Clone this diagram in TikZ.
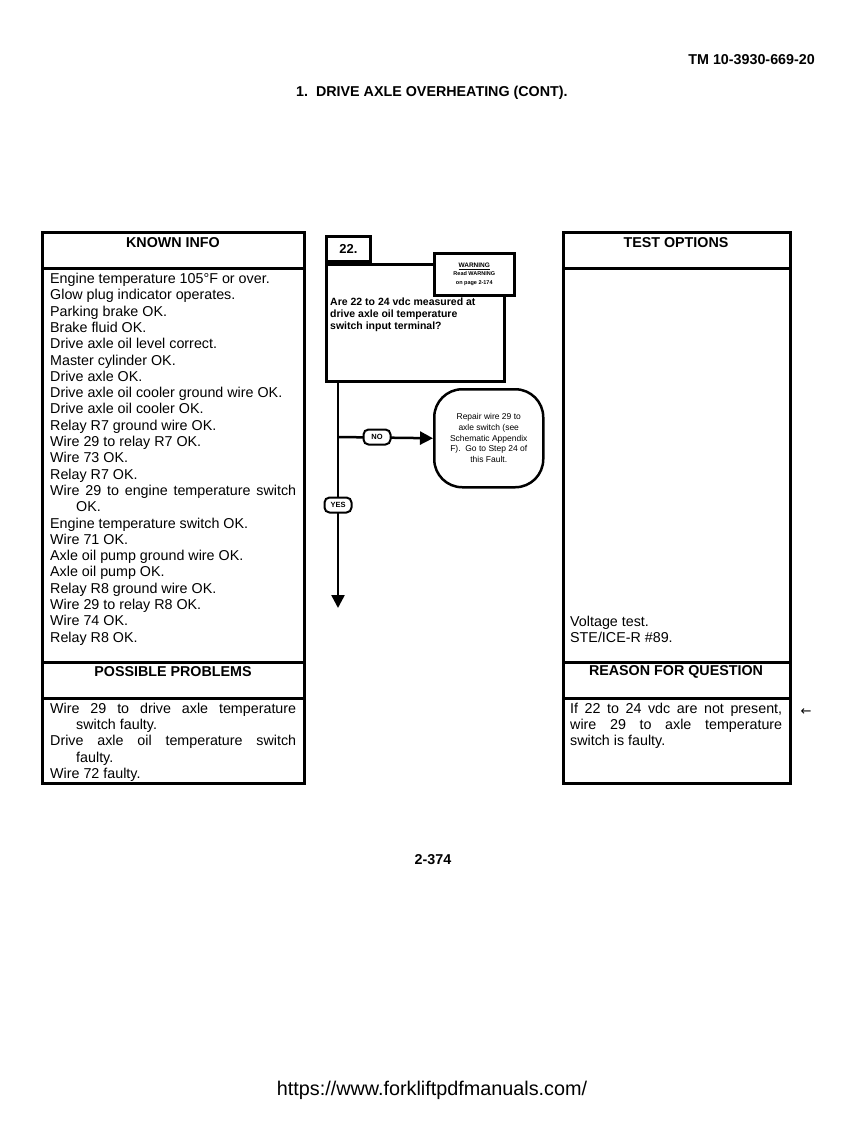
\documentclass[tikz,border=0pt]{standalone}
\usepackage{fontspec}
\setmainfont{Liberation Sans}
\newfontfamily\symfont{DejaVu Sans}
\usetikzlibrary{arrows.meta}
\tolerance=9999 \emergencystretch=10pt \hbadness=10000 \hyphenpenalty=10000
\newcommand\kitem{\par\noindent\hangindent=26pt\hangafter=1\relax}
\begin{document}
\begin{tikzpicture}[x=1pt,y=-1pt,
  frame/.style={line width=3pt},
  head/.style={font=\fontsize{14.3}{16.3}\selectfont\bfseries, inner sep=0},
  body/.style={font=\fontsize{14.3}{16.3}\selectfont, inner sep=0, anchor=north west, align=justify},
  flow/.style={line width=2.5pt},
  tip/.style={-{Triangle[length=13pt,width=13pt]}},
  tag/.style={draw, line width=2pt, rounded corners=5pt, fill=white, font=\fontsize{7.5}{8}\selectfont\bfseries, inner sep=1pt, minimum width=27pt, minimum height=15pt}]
\useasboundingbox (0,0) rectangle (866,1122);

% page texts
\node[head, anchor=east] (tm) at (815,60) {TM 10-3930-669-20};
\node[head, anchor=west] (title) at (296,93) {1.\ \ DRIVE AXLE OVERHEATING (CONT).};
\node[head] (pg) at (433,860) {2-374};
\node[font=\fontsize{19.8}{22}\selectfont, inner sep=0] (url) at (432,1090) {https://www.forkliftpdfmanuals.com/};

% left frame
\draw[frame] (42,232) rectangle (304,783);
\draw[frame] (42,268) -- (304,268);
\draw[frame] (42,662) -- (304,662);
\draw[frame] (42,698) -- (304,698);
% right frame
\draw[frame] (563,232) rectangle (790,783);
\draw[frame] (563,268) -- (790,268);
\draw[frame] (563,662) -- (790,662);
\draw[frame] (563,698) -- (790,698);

\node[head] (kh) at (173,243) {KNOWN INFO};
\node[head] (ph) at (173,672) {POSSIBLE PROBLEMS};
\node[head] (th) at (676,243) {TEST OPTIONS};
\node[head] (rh) at (676,672) {REASON FOR QUESTION};

\node[body, text width=246pt] (known) at (50,273) {%
\noindent\hangindent=26pt\hangafter=1 Engine temperature 105°F or over.
\kitem Glow plug indicator operates.
\kitem Parking brake OK.
\kitem Brake fluid OK.
\kitem Drive axle oil level correct.
\kitem Master cylinder OK.
\kitem Drive axle OK.
\kitem Drive axle oil cooler ground wire OK.
\kitem Drive axle oil cooler OK.
\kitem Relay R7 ground wire OK.
\kitem Wire 29 to relay R7 OK.
\kitem Wire 73 OK.
\kitem Relay R7 OK.
\kitem Wire 29 to engine temperature switch OK.
\kitem Engine temperature switch OK.
\kitem Wire 71 OK.
\kitem Axle oil pump ground wire OK.
\kitem Axle oil pump OK.
\kitem Relay R8 ground wire OK.
\kitem Wire 29 to relay R8 OK.
\kitem Wire 74 OK.
\kitem Relay R8 OK.}; 

\node[body, text width=246pt] (probs) at (50,702.7) {%
\noindent\hangindent=26pt\hangafter=1 Wire 29 to drive axle temperature switch faulty.
\kitem Drive axle oil temperature switch\linebreak faulty.
\kitem Wire 72 faulty.};

\node[body, text width=212pt] (tests) at (570,615.7) {%
\noindent Voltage test.\par
\noindent STE/ICE-R \#89.};

\node[body, text width=212pt] (reason) at (570,702.7) {%
\noindent If 22 to 24 vdc are not present, wire 29 to axle temperature\linebreak switch is faulty.};

\node[font=\symfont\fontsize{13}{14}\selectfont, inner sep=0] (mark) at (806,712) {←};

% flowchart
\node[draw, line width=3pt, minimum width=178pt, minimum height=117pt, anchor=north west, inner sep=0] (q) at (325,263) {};
\node[draw, line width=3pt, minimum width=44pt, minimum height=25pt, anchor=south west, inner sep=0,
      font=\fontsize{13}{14}\selectfont\bfseries] (num) at (325,263) {22.};
\node[draw, fill=white, line width=2.5pt, minimum width=80pt, minimum height=42pt, anchor=north west,
      inner sep=0, align=center, font=\fontsize{5.5}{8.5}\selectfont\bfseries] (warn) at (433,252)
      {{\fontsize{6.5}{8.5}\selectfont\underline{WARNING}}\\Read WARNING\\on page 2-174};
\node[anchor=north west, inner sep=0, align=left, font=\fontsize{10.5}{12}\selectfont\bfseries] (qt) at (330,298)
      {Are 22 to 24 vdc measured at\\drive axle oil temperature\\switch input terminal?};

\node[draw, line width=2.5pt, rounded corners=28pt, minimum width=109pt, minimum height=98pt, anchor=north west,
      inner sep=0, align=center, font=\fontsize{8.5}{10.7}\selectfont] (fix) at (433,388)
      {Repair wire 29 to\\axle switch (see\\Schematic Appendix\\F).\ \ Go to Step 24 of\\this Fault.};

\coordinate (trunk) at (338,608);
\coordinate (split) at (338,437);
\draw[flow, tip] (q.south -| trunk) -- (trunk);
\draw[flow, tip] (split) -- (fix.west);
\node[tag] (no) at (377,437) {NO};
\node[tag] (yes) at (338,505) {YES};
\end{tikzpicture}
\end{document}
